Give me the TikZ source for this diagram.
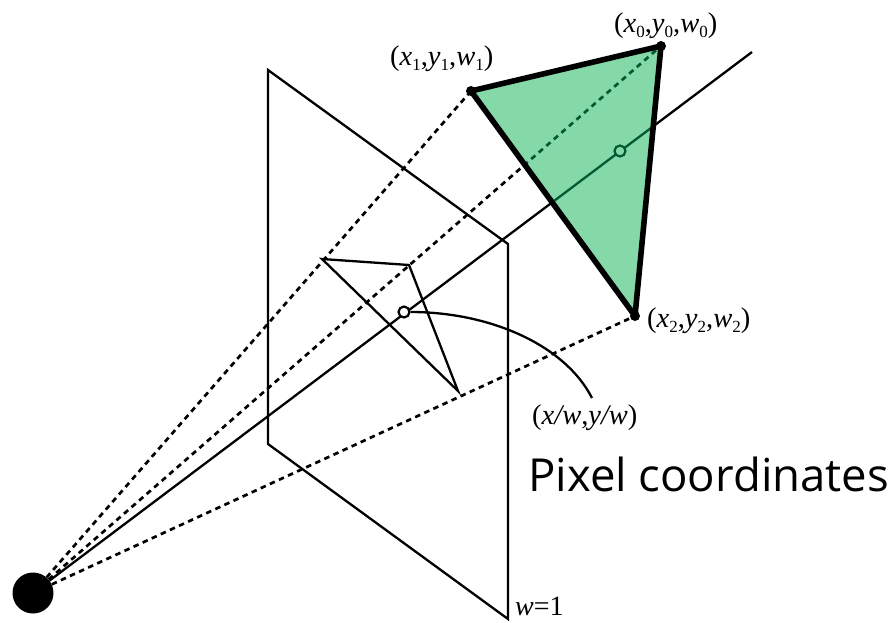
\documentclass[tikz,border=0pt]{standalone}
\usepackage{fontspec}
\setmainfont{Liberation Serif}
\newfontfamily\pixfont{Open Sans}
\definecolor{trifill}{RGB}{133,217,169}
\definecolor{tridark}{RGB}{0,90,50}
\newcommand{\sbs}[1]{\raisebox{-5.5pt}{\fontsize{17}{17}\selectfont #1}}
\tikzset{
  thinline/.style={line width=2.3pt,black},
  raydash/.style={line width=2.7pt,dash pattern=on 5.5pt off 4.5pt},
  triedge/.style={line width=5.6pt,line cap=round,line join=round},
  vertexdot/.style={circle,fill=black,inner sep=0pt,minimum size=10pt},
  hitmark/.style={circle,draw,line width=2.2pt,inner sep=0pt,minimum size=11pt},
  lab/.style={inner sep=0pt,anchor=base west,font=\fontsize{28.5}{31}\selectfont},
  labsmall/.style={inner sep=0pt,anchor=base west,font=\fontsize{28}{28}\selectfont}
}
\begin{document}
\begin{tikzpicture}[x=1pt,y=-1pt]
\useasboundingbox (0,0) rectangle (895,622);
% named points
\coordinate (pa) at (268,70);
\coordinate (pb) at (508,244);
\coordinate (pc) at (508,619);
\coordinate (pd) at (268,444);
\coordinate (q0) at (409,265);
\coordinate (q1) at (322,259);
\coordinate (q2) at (458,391);
\coordinate (rayend) at (752,52);
\coordinate (curveend) at (592,398);
\node[circle,fill=black,inner sep=0pt,minimum size=41pt] (eye) at (33,593) {};
\coordinate (v0) at (661,46);
\coordinate (v1) at (471,91);
\coordinate (v2) at (635,316);
\coordinate (hit) at (620,151);
\coordinate (pix) at (404,312);
% plane and projected triangle
\draw[thinline,line join=miter] (pa) -- (pb) -- (pc) -- (pd) -- cycle;
\draw[thinline,line join=miter] (q1) -- (q0) -- (q2) -- cycle;
% rays
\draw[raydash] (eye) -- (v0);
\draw[raydash] (eye) -- (v1);
\draw[raydash] (eye) -- (v2);
\draw[thinline] (eye) -- (rayend);
% triangle
\fill[trifill] (v0) -- (v1) -- (v2) -- cycle;
\begin{scope}
\clip (v0) -- (v1) -- (v2) -- cycle;
\draw[raydash,tridark] (eye) -- (v0);
\draw[line width=2.3pt,tridark] (eye) -- (rayend);
\end{scope}
\draw[triedge] (v0) -- (v1) -- (v2) -- cycle;
\node[vertexdot] (n0) at (v0) {};
\node[vertexdot] (n1) at (v1) {};
\node[vertexdot] (n2) at (v2) {};
\node[hitmark,draw=tridark,fill=trifill] (hitn) at (hit) {};
\node[hitmark,fill=white] (pixn) at (pix) {};
\draw[thinline] (pixn.east) .. controls (490,312) and (565,345) .. (curveend);
% labels
\node[lab] (l0) at (614,32) {(\textit{x}\sbs{0},\textit{y}\sbs{0},\textit{w}\sbs{0})};
\node[lab] (l1) at (390,65) {(\textit{x}\sbs{1},\textit{y}\sbs{1},\textit{w}\sbs{1})};
\node[lab] (l2) at (647,327) {(\textit{x}\sbs{2},\textit{y}\sbs{2},\textit{w}\sbs{2})};
\node[lab] (l3) at (532,424) {(\textit{x/w},\textit{y/w})};
\node[labsmall] (l4) at (515,615) {\textit{w}=1};
\node[inner sep=0pt,anchor=base west,font=\pixfont\fontsize{45.5}{50}\selectfont] (title) at (528,491) {Pixel coordinates};
\end{tikzpicture}
\end{document}
